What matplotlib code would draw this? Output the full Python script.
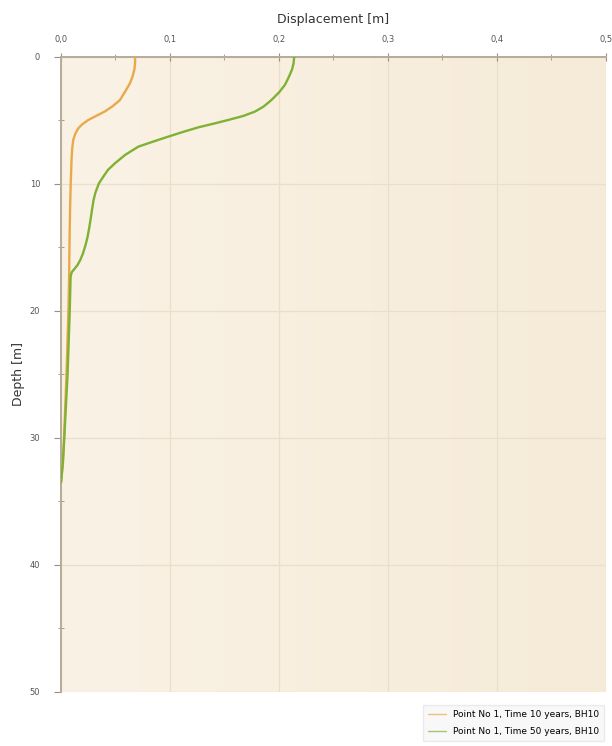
import numpy as np
import matplotlib.pyplot as plt
from matplotlib.colors import LinearSegmentedColormap

# data (displacement [m] vs depth [m])
depth_10y = [0, 0.5, 1.0, 1.5, 2.07, 2.7, 3.4, 3.9, 4.3, 4.65, 4.96, 5.3, 5.6, 6.0, 6.5, 7.1, 7.8, 9.0,
             10.0, 12.0, 14.0, 16.0, 17.0, 20.0, 25.0, 30.0, 32.0, 33.5]
disp_10y = [0.068, 0.068, 0.0673, 0.0658, 0.0633, 0.059, 0.054, 0.047, 0.040, 0.032, 0.025, 0.0195, 0.016,
            0.0133, 0.0113, 0.0104, 0.0098, 0.0093, 0.0089, 0.0083, 0.0079, 0.0076, 0.0075, 0.0068,
            0.0050, 0.0028, 0.0016, 0.0]

depth_50y = [0, 0.5, 1.0, 1.6, 2.2, 2.8, 3.4, 3.9, 4.3, 4.65, 4.96, 5.25, 5.54, 5.9, 6.27, 6.65, 7.06,
             7.7, 8.37, 8.9, 9.4, 9.95, 10.7, 11.3, 12.0, 12.7, 13.4, 14.2, 14.9, 15.5, 16.0, 16.4,
             16.7, 16.95, 17.3, 20.0, 25.0, 30.0, 32.0, 33.5]
disp_50y = [0.214, 0.2135, 0.212, 0.209, 0.2055, 0.2, 0.193, 0.186, 0.178, 0.167, 0.1535, 0.14, 0.126,
            0.112, 0.0985, 0.085, 0.071, 0.059, 0.0495, 0.043, 0.039, 0.0348, 0.0315, 0.0298, 0.0285,
            0.0273, 0.0260, 0.0243, 0.0222, 0.0200, 0.0176, 0.0150, 0.0122, 0.0098, 0.0088, 0.0080,
            0.0060, 0.0030, 0.0017, 0.0]

labels = ["Point No 1, Time 10 years, BH10", "Point No 1, Time 50 years, BH10"]
colors = ["#e9a94b", "#7fb134"]

fig = plt.figure(figsize=(6.12, 7.46), dpi=100)
ax = fig.add_axes([0.0997, 0.0724, 0.890, 0.8512])

# soft beige background with a slight gradient
grad = np.linspace(0, 1, 256).reshape(1, -1)
bg = LinearSegmentedColormap.from_list("bg", ["#faf2e5", "#f6ebd8"])
ax.imshow(grad, extent=[0, 0.5, 50, 0], aspect="auto", zorder=0, cmap=bg)

ax.plot(disp_10y, depth_10y, color=colors[0], lw=1.7, label=labels[0], zorder=3,
        solid_capstyle="round", solid_joinstyle="round")
ax.plot(disp_50y, depth_50y, color=colors[1], lw=1.7, label=labels[1], zorder=3,
        solid_capstyle="round", solid_joinstyle="round")

ax.set_xlim(0, 0.5)
ax.set_ylim(50, 0)
ax.xaxis.tick_top()
ax.xaxis.set_label_position("top")
ax.set_xticks(np.arange(0, 0.51, 0.1))
ax.set_xticklabels([f"{v:.1f}".replace(".", ",") for v in np.arange(0, 0.51, 0.1)])
ax.set_xticks(np.arange(0.05, 0.5, 0.1), minor=True)
ax.set_yticks(np.arange(0, 51, 10))
ax.set_yticks(np.arange(5, 50, 10), minor=True)

ax.grid(True, which="major", color="#e8dfcc", lw=0.9, zorder=1)
ax.tick_params(axis="x", which="major", labelsize=6, colors="#9a8f80", labelcolor="#555555",
               length=6, direction="inout", pad=6)
ax.tick_params(axis="y", which="major", labelsize=6, colors="#9a8f80", labelcolor="#555555",
               length=5, direction="out", pad=10)
ax.tick_params(axis="both", which="minor", colors="#9a8f80", length=4, direction="inout")

for s in ["bottom", "right"]:
    ax.spines[s].set_visible(False)
for s in ["top", "left"]:
    ax.spines[s].set_color("#b5ab98")
    ax.spines[s].set_linewidth(1.4)

ax.set_xlabel("Displacement [m]", fontsize=9, color="#333333", labelpad=9)
ax.set_ylabel("Depth [m]", fontsize=9, color="#333333", labelpad=3)

leg = fig.legend(loc="upper right", bbox_to_anchor=(0.995, 0.061), fontsize=6.5,
                 frameon=True, fancybox=False, handlelength=2.0, labelspacing=0.9,
                 handletextpad=0.8, borderpad=0.55)
leg.get_frame().set_facecolor("#f7f7f7")
leg.get_frame().set_edgecolor("#e6e6e6")
for h in leg.get_lines():
    h.set_linewidth(1.0)
    h.set_alpha(0.7)

fig.savefig("out.png", dpi=100)
